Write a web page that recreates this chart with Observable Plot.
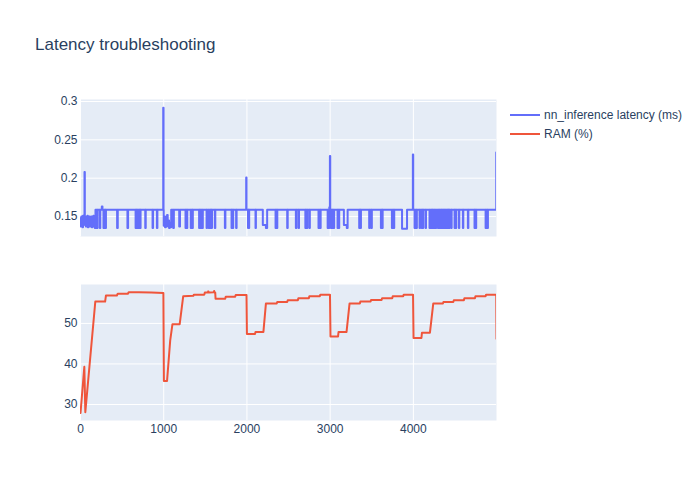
<!DOCTYPE html>
<html>
<head>
<meta charset="utf-8">
<script src="https://cdn.jsdelivr.net/npm/d3@7"></script>
<script src="https://cdn.jsdelivr.net/npm/@observablehq/plot@0.6"></script>
<style>
  html, body { margin: 0; padding: 0; background: #fff; }
  #wrap { position: relative; width: 700px; height: 500px; font-family: "Liberation Sans", Arial, sans-serif; color: #2a3f5f; overflow: hidden; }
  #title { position: absolute; left: 35px; top: 36px; font-size: 17px; line-height: 1; white-space: nowrap; }
  .panel { position: absolute; left: 0; }
  .legend-item { position: absolute; left: 508px; height: 14px; display: flex; align-items: center; font-size: 12px; white-space: nowrap; }
  .legend-item svg { margin-right: 2px; }
</style>
</head>
<body>
<div id="wrap">
  <div id="title">Latency troubleshooting</div>
  <div id="top" class="panel" style="top:89px"></div>
  <div id="bottom" class="panel" style="top:274px"></div>
  <div id="legend"></div>
</div>
<script>
// ---- data ----
const seriesNames = ["nn_inference latency (ms)", "RAM (%)"];
const seriesColors = ["#636efa", "#EF553B"];
const xTicks = [0, 1000, 2000, 3000, 4000];
const latencyTicks = [0.15, 0.2, 0.25, 0.3];
const ramTicks = [30, 40, 50];

// latency change points [step index, ms] (step-after)
const latency = [
[0,.148],[5,.137],[10,.150],[15,.138],[20,.146],[25,.136],[30,.151],[36,.139],[42,.147],[48,.208],[52,.140],[58,.150],[64,.137],[70,.149],[76,.138],[82,.151],[88,.136],[94,.146],[100,.139],[106,.150],[112,.137],[118,.148],[124,.138],[130,.150],[136,.136],[142,.147],[148,.139],[154,.151],[160,.137],[166,.146],[172,.135],
[180,.159],[198,.135],[205,.159],[232,.135],[238,.159],[256,.163],[264,.159],[276,.135],[282,.159],[288,.135],[294,.159],[302,.135],[306,.159],
[440,.135],[448,.159],[564,.135],[572,.159],[662,.135],[668,.159],[676,.135],[680,.159],[688,.135],[696,.159],[704,.135],[709,.159],[716,.135],[722,.159],[778,.135],[784,.159],[866,.135],[872,.159],[918,.135],[924,.159],
[994,.292],[998,.159],[1000,.138],[1008,.150],[1016,.136],[1024,.148],[1032,.137],[1040,.152],[1048,.138],[1056,.145],[1064,.135],[1072,.142],[1080,.136],[1090,.159],
[1114,.135],[1122,.159],[1186,.137],[1196,.159],[1262,.135],[1268,.159],[1278,.135],[1283,.159],[1325,.135],[1331,.159],[1345,.135],[1350,.159],[1425,.135],[1430,.159],[1445,.135],[1450,.159],[1463,.135],[1470,.159],[1515,.135],[1520,.159],[1540,.135],[1546,.159],[1560,.135],[1566,.159],[1576,.135],[1580,.159],[1614,.135],[1620,.159],[1735,.135],[1741,.159],[1815,.135],[1820,.159],[1830,.135],[1835,.159],[1870,.135],[1876,.159],
[1991,.201],[1995,.159],[2013,.135],[2018,.159],[2023,.135],[2027,.159],[2103,.135],[2108,.159],[2191,.139],[2228,.135],[2243,.159],[2344,.135],[2350,.159],[2360,.135],[2365,.159],[2484,.135],[2490,.159],
[2588,.135],[2594,.159],[2620,.135],[2626,.159],[2702,.135],[2708,.159],[2720,.135],[2725,.159],[2750,.135],[2756,.159],[2860,.135],[2868,.159],[2880,.135],[2886,.159],[2970,.135],[2976,.159],[2985,.135],[2990,.162],[2997,.229],[3001,.159],[3009,.135],[3014,.159],[3024,.135],[3030,.159],[3042,.135],[3048,.159],[3089,.135],[3095,.159],[3104,.135],[3109,.159],[3165,.139],[3200,.135],[3210,.159],[3349,.135],[3355,.159],[3365,.135],[3370,.159],[3469,.135],[3476,.159],[3495,.135],[3501,.159],[3610,.135],[3616,.159],[3626,.135],[3631,.159],[3742,.135],[3750,.159],[3764,.135],[3770,.159],[3864,.134],[3924,.159],
[3994,.231],[3998,.159],[4014,.135],[4020,.159],[4036,.135],[4042,.159],[4074,.135],[4080,.159],[4100,.135],[4106,.159],[4114,.135],[4118,.159],[4146,.135],[4152,.159],[4194,.135],[4200,.159],[4216,.135],[4222,.159],[4230,.135],[4235,.159],[4247,.135],[4252,.159],[4268,.135],[4275,.159],[4295,.135],[4300,.159],[4312,.135],[4318,.159],[4330,.135],[4335,.159],[4342,.135],[4347,.159],[4356,.135],[4361,.159],[4368,.135],[4373,.159],[4380,.135],[4385,.159],[4392,.135],[4398,.159],[4406,.135],[4411,.159],[4420,.135],[4425,.159],[4430,.135],[4435,.159],[4455,.135],[4460,.159],[4495,.135],[4500,.159],[4510,.135],[4515,.159],[4547,.135],[4552,.159],[4595,.135],[4600,.159],[4655,.135],[4661,.159],[4735,.135],[4740,.159],[4750,.135],[4755,.159],[4868,.135],[4874,.159],[4890,.135],[4896,.159],[4996,.2335],[4999,.2335]
];

// RAM points [step index, %]
const ram = [
[0,27.9],[46,39.3],[58,28.1],[178,55.4],[296,55.4],[306,56.9],[437,56.9],[447,57.3],[569,57.3],[579,57.7],[700,57.7],[850,57.6],[996,57.5],[1002,35.8],[1040,35.8],[1078,45.8],[1105,49.8],[1192,49.8],[1234,56.7],[1356,56.8],[1362,57.1],[1488,57.1],[1494,57.6],[1530,57.6],[1535,57.9],[1545,57.6],[1600,57.7],[1606,58.0],[1612,57.6],[1619,57.6],[1623,56.1],[1739,56.1],[1745,56.6],[1859,56.6],[1865,57.0],[1995,57.0],[2000,47.4],[2097,47.4],[2103,47.9],[2198,47.9],[2228,54.9],[2358,54.9],[2364,55.3],[2484,55.3],[2490,55.7],[2612,55.7],[2618,56.2],[2744,56.2],[2750,56.7],[2876,56.7],[2882,57.1],[2998,57.1],[3004,46.8],[3095,46.8],[3101,47.9],[3197,47.9],[3233,54.9],[3357,54.9],[3363,55.4],[3486,55.4],[3492,55.8],[3618,55.8],[3624,56.2],[3746,56.2],[3752,56.7],[3878,56.7],[3884,57.1],[3996,57.1],[4002,46.4],[4097,46.4],[4103,47.7],[4199,47.7],[4239,54.9],[4355,54.9],[4361,55.3],[4480,55.3],[4486,55.7],[4607,55.7],[4613,56.2],[4740,56.2],[4746,56.7],[4868,56.7],[4874,57.1],[4996,57.1],[4999,46.2]
];

const xDomain = [0, 4999];
const latencyDomain = [0.124, 0.3026];
const ramDomain = [26.05, 59.6];

// ---- charts ----
const common = {
  width: 700,
  marginLeft: 80,
  marginRight: 204,
  style: { fontFamily: '"Liberation Sans", Arial, sans-serif', fontSize: "12px", color: "#2a3f5f", background: "transparent", overflow: "visible" }
};
const plainNum = d => String(d);

const topChart = Plot.plot({
  ...common,
  height: 157,
  marginTop: 10,
  marginBottom: 10,
  x: { domain: xDomain, axis: null },
  y: { domain: latencyDomain, axis: null },
  marks: [
    Plot.frame({ fill: "#E5ECF6", stroke: null }),
    Plot.gridX(xTicks, { stroke: "white", strokeOpacity: 1, strokeWidth: 1 }),
    Plot.gridY(latencyTicks, { stroke: "white", strokeOpacity: 1, strokeWidth: 1 }),
    Plot.axisY(latencyTicks, { tickSize: 0, tickPadding: 3, label: null, tickFormat: plainNum, fill: "#2a3f5f" }),
    Plot.line(latency, { x: d => d[0], y: d => d[1], curve: "step-after", stroke: seriesColors[0], strokeWidth: 2, clip: true })
  ]
});

const bottomChart = Plot.plot({
  ...common,
  height: 176,
  marginTop: 10,
  marginBottom: 30,
  x: { domain: xDomain, axis: null },
  y: { domain: ramDomain, axis: null },
  marks: [
    Plot.frame({ fill: "#E5ECF6", stroke: null }),
    Plot.gridX(xTicks, { stroke: "white", strokeOpacity: 1, strokeWidth: 1 }),
    Plot.gridY(ramTicks, { stroke: "white", strokeOpacity: 1, strokeWidth: 1 }),
    Plot.axisX(xTicks, { tickSize: 0, tickPadding: 4, label: null, tickFormat: plainNum, fill: "#2a3f5f" }),
    Plot.axisY(ramTicks, { tickSize: 0, tickPadding: 3, label: null, tickFormat: plainNum, fill: "#2a3f5f" }),
    Plot.line(ram, { x: d => d[0], y: d => d[1], stroke: seriesColors[1], strokeWidth: 2, clip: true })
  ]
});

document.getElementById("top").appendChild(topChart);
document.getElementById("bottom").appendChild(bottomChart);

// ---- legend ----
const legend = document.getElementById("legend");
seriesNames.forEach((name, i) => {
  const item = document.createElement("div");
  item.className = "legend-item";
  item.style.top = (108 + i * 19) + "px";
  item.innerHTML = `<svg width="34" height="14"><line x1="2" x2="32" y1="7" y2="7" stroke="${seriesColors[i]}" stroke-width="2"/></svg><span>${name}</span>`;
  legend.appendChild(item);
});
</script>
</body>
</html>
